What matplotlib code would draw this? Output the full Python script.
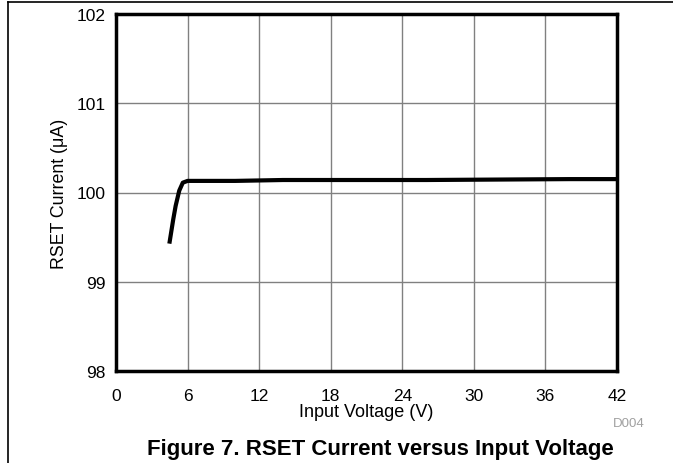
import matplotlib
matplotlib.use("Agg")
import matplotlib.pyplot as plt
from matplotlib.lines import Line2D

plt.rcParams["font.family"] = ["Liberation Sans", "DejaVu Sans"]

# data
vin = [4.5, 4.8, 5.0, 5.3, 5.6, 6.0, 8.0, 10.0, 14.0, 20.0, 26.0, 32.0, 38.0, 42.0]
iset = [99.45, 99.70, 99.85, 100.02, 100.11, 100.13, 100.13, 100.13, 100.14, 100.14, 100.14, 100.145, 100.15, 100.15]

x_ticks = [0, 6, 12, 18, 24, 30, 36, 42]
y_ticks = [98, 99, 100, 101, 102]

fig = plt.figure(figsize=(6.73, 4.64), dpi=100)
ax = fig.add_axes([116 / 673, 1 - 372 / 464, (617 - 116) / 673, (372 - 15) / 464])

ax.plot(vin, iset, color="black", lw=3, solid_joinstyle="round")
ax.set_xlim(0, 42)
ax.set_ylim(98, 102)
ax.set_xticks(x_ticks)
ax.set_yticks(y_ticks)
ax.grid(True, color="#808080", lw=1)
ax.tick_params(axis="x", length=0, labelsize=12.5, pad=12)
ax.tick_params(axis="y", length=0, labelsize=12.5, pad=7.5)
for s in ax.spines.values():
    s.set_linewidth(2.5)
ax.set_xlabel("Input Voltage (V)", fontsize=13, labelpad=0)
ax.set_ylabel("RSET Current (\u03bcA)", fontsize=12.8, labelpad=6)

fig.text(629 / 673, 1 - 424 / 464, "D004", color="#a0a0a0", fontsize=9.5, ha="center", va="center")
fig.text(380 / 673, 1 - 450 / 464, "Figure 7. RSET Current versus Input Voltage",
         fontsize=16, fontweight="bold", ha="center", va="center")

# page frame: top and left edge
fig.add_artist(Line2D([8 / 673, 1], [1 - 3 / 464, 1 - 3 / 464], color="black", lw=1.2, transform=fig.transFigure))
fig.add_artist(Line2D([8 / 673, 8 / 673], [0, 1 - 3 / 464], color="black", lw=1.2, transform=fig.transFigure))

fig.savefig("out.png", dpi=100)
